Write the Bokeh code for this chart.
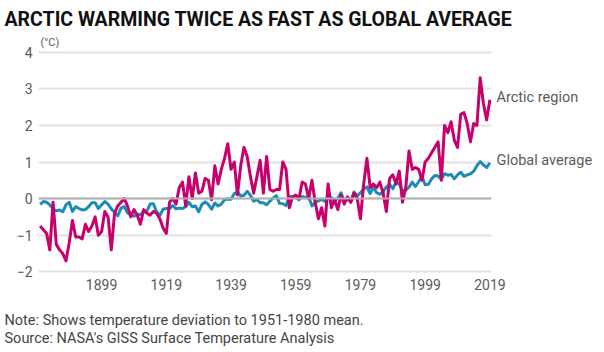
from bokeh.plotting import figure
from bokeh.layouts import column
from bokeh.models import (ColumnDataSource, FixedTicker, Span, Range1d, Title,
                          LinearAxis)
from bokeh.embed import file_html
from bokeh.resources import INLINE

years = list(range(1880, 2020))

arctic = [
    -0.75, -0.85, -0.95, -1.4, -0.1, -1.25, -1.4, -1.5, -1.7, -1.2,
    -0.6, -1.05, -1.05, -1.1, -0.7, -0.9, -0.75, -0.5, -1.0, -0.9,
    -0.35, -0.5, -1.4, -0.4, -0.2, -0.1, 0.0, -0.2, -0.5, -0.3,
    -0.45, -0.7, -0.3, -0.4, -0.45, -0.35, -0.4, -0.55, -0.8, -0.95,
    -0.1, 0.0, -0.15, 0.3, 0.45, -0.2, 0.6, 0.0, 0.7, 0.15,
    0.2, 0.55, 0.5, -0.03, 0.9, 0.4, 0.8, 1.1, 1.5, 0.8,
    1.0, 0.1, 0.9, 1.4, 1.15, 0.6, 0.15, 0.6, 1.05, 0.15,
    1.15, 0.25, 0.2, 0.25, 0.25, 1.0, 0.8, -0.25, 0.05, 0.1,
    0.0, 0.45, 0.4, 0.0, 0.5, -0.1, -0.55, -0.25, -0.75, 0.4,
    -0.25, -0.03, -0.3, 0.1, -0.15, 0.05, -0.1, 0.15, 0.0, -0.55,
    0.4, 1.1, 0.3, 0.4, 0.3, 0.45, 0.15, -0.35, 0.55, 0.65,
    0.4, 0.75, -0.1, 0.3, 1.3, 0.8, 0.85, 0.8, 0.5, 1.0,
    1.1, 1.25, 1.4, 1.55, 0.5, 2.0, 1.8, 2.1, 1.6, 1.4,
    2.3, 2.35, 2.05, 1.55, 2.05, 2.0, 3.3, 2.6, 2.15, 2.7,
]

global_avg = [
    -0.16, -0.08, -0.10, -0.17, -0.28, -0.33, -0.31, -0.36, -0.17, -0.10,
    -0.35, -0.22, -0.27, -0.31, -0.30, -0.22, -0.11, -0.11, -0.27, -0.17,
    -0.08, -0.15, -0.28, -0.37, -0.47, -0.26, -0.22, -0.39, -0.43, -0.48,
    -0.43, -0.44, -0.36, -0.34, -0.15, -0.14, -0.36, -0.46, -0.29, -0.27,
    -0.27, -0.19, -0.28, -0.26, -0.27, -0.22, -0.10, -0.22, -0.20, -0.36,
    -0.16, -0.09, -0.16, -0.29, -0.12, -0.20, -0.15, -0.03, -0.01, -0.02,
    0.13, 0.19, 0.07, 0.09, 0.20, 0.09, -0.07, -0.03, -0.11, -0.11,
    -0.17, -0.07, 0.01, 0.08, -0.13, -0.14, -0.19, 0.05, 0.06, 0.03,
    -0.03, 0.06, 0.03, 0.05, -0.20, -0.11, -0.06, -0.02, -0.08, 0.05,
    0.03, -0.08, 0.01, 0.16, -0.07, -0.01, -0.10, 0.18, 0.07, 0.16,
    0.26, 0.32, 0.14, 0.31, 0.16, 0.12, 0.18, 0.32, 0.39, 0.27,
    0.45, 0.40, 0.22, 0.23, 0.31, 0.45, 0.33, 0.46, 0.61, 0.38,
    0.39, 0.54, 0.63, 0.62, 0.53, 0.68, 0.64, 0.66, 0.54, 0.65,
    0.72, 0.61, 0.65, 0.68, 0.75, 0.90, 1.01, 0.92, 0.85, 0.98,
]

x_ticks = [1899, 1919, 1939, 1959, 1979, 1999, 2019]
y_ticks = [-2, -1, 0, 1, 2, 3, 4]

series_names = ["Arctic region", "Global average"]
series_label_y = [2.76, 1.04]

title_text = "ARCTIC WARMING TWICE AS FAST AS GLOBAL AVERAGE"
unit_text = "(°C)"
note_text = "Note: Shows temperature deviation to 1951-1980 mean."
source_text = "Source: NASA's GISS Surface Temperature Analysis"

PINK = "#c8006e"
BLUE = "#1b8cb6"
TXT = "#5a5a5a"
FONT = "Roboto"

src = ColumnDataSource(data=dict(year=years, arctic=arctic, glob=global_avg))

p = figure(width=604, height=310, output_backend="svg", toolbar_location=None,
           x_range=Range1d(1879.5, 2019.5), y_range=Range1d(-2.1, 4.1),
           min_border_left=38, min_border_right=113, min_border_top=48,
           min_border_bottom=35, title=None)
p.outline_line_color = None
p.background_fill_color = "white"
p.border_fill_color = "white"

p.xgrid.grid_line_color = None
p.ygrid.grid_line_color = "#e2e2e2"
p.ygrid.grid_line_width = 2
p.ygrid.ticker = FixedTicker(ticks=y_ticks)

right_axis = LinearAxis(ticker=FixedTicker(ticks=series_label_y),
                        major_label_overrides={v: n for v, n in zip(series_label_y, series_names)})
p.add_layout(right_axis, "right")

for ax, ticks in ((p.xaxis[0], x_ticks), (p.yaxis[0], y_ticks)):
    ax.ticker = FixedTicker(ticks=ticks)

for ax in (p.xaxis[0], p.yaxis[0], right_axis):
    ax.axis_line_color = None
    ax.major_tick_line_color = None
    ax.minor_tick_line_color = None
    ax.major_tick_in = 0
    ax.major_tick_out = 0
    ax.major_label_text_font = FONT
    ax.major_label_text_font_size = "14px"
    ax.major_label_text_color = TXT
p.xaxis.major_label_standoff = 3
p.yaxis[0].major_label_standoff = 6
right_axis.major_label_standoff = 5
right_axis.major_label_text_font_size = "14.5px"

p.add_layout(Span(location=0, dimension="width", line_color="#b0b0b0", line_width=2))

p.line("year", "glob", source=src, line_color=BLUE, line_width=3, line_join="round")
p.line("year", "arctic", source=src, line_color=PINK, line_width=3, line_join="round")

# titles above (first added = closest to plot)
p.add_layout(Title(text=unit_text, align="left", offset=2, text_font=FONT,
                   text_font_size="11px", text_color=TXT, text_font_style="normal",
                   standoff=0), "above")
p.add_layout(Title(text=title_text, align="left", offset=-34,
                   text_font=FONT, text_font_size="19.5px",
                   text_color="#111111", text_font_style="bold", standoff=6), "above")

# footer strip holding the note and source
foot = figure(width=604, height=42, output_backend="svg", toolbar_location=None,
              x_range=Range1d(0, 1), y_range=Range1d(0, 1),
              x_axis_type=None, y_axis_type=None, min_border=0, title=None)
foot.outline_line_color = None
foot.grid.grid_line_color = None
foot.background_fill_color = "white"
foot.border_fill_color = "white"
foot.add_layout(Title(text=note_text + "\n" + source_text, align="left", offset=-34,
                      text_font=FONT, text_font_size="14.5px", text_color="#444444",
                      text_font_style="normal", text_line_height=1.05,
                      vertical_align="top", standoff=7), "above")

layout = column(p, foot, spacing=0)
open("out.html", "w").write(file_html(layout, INLINE))
